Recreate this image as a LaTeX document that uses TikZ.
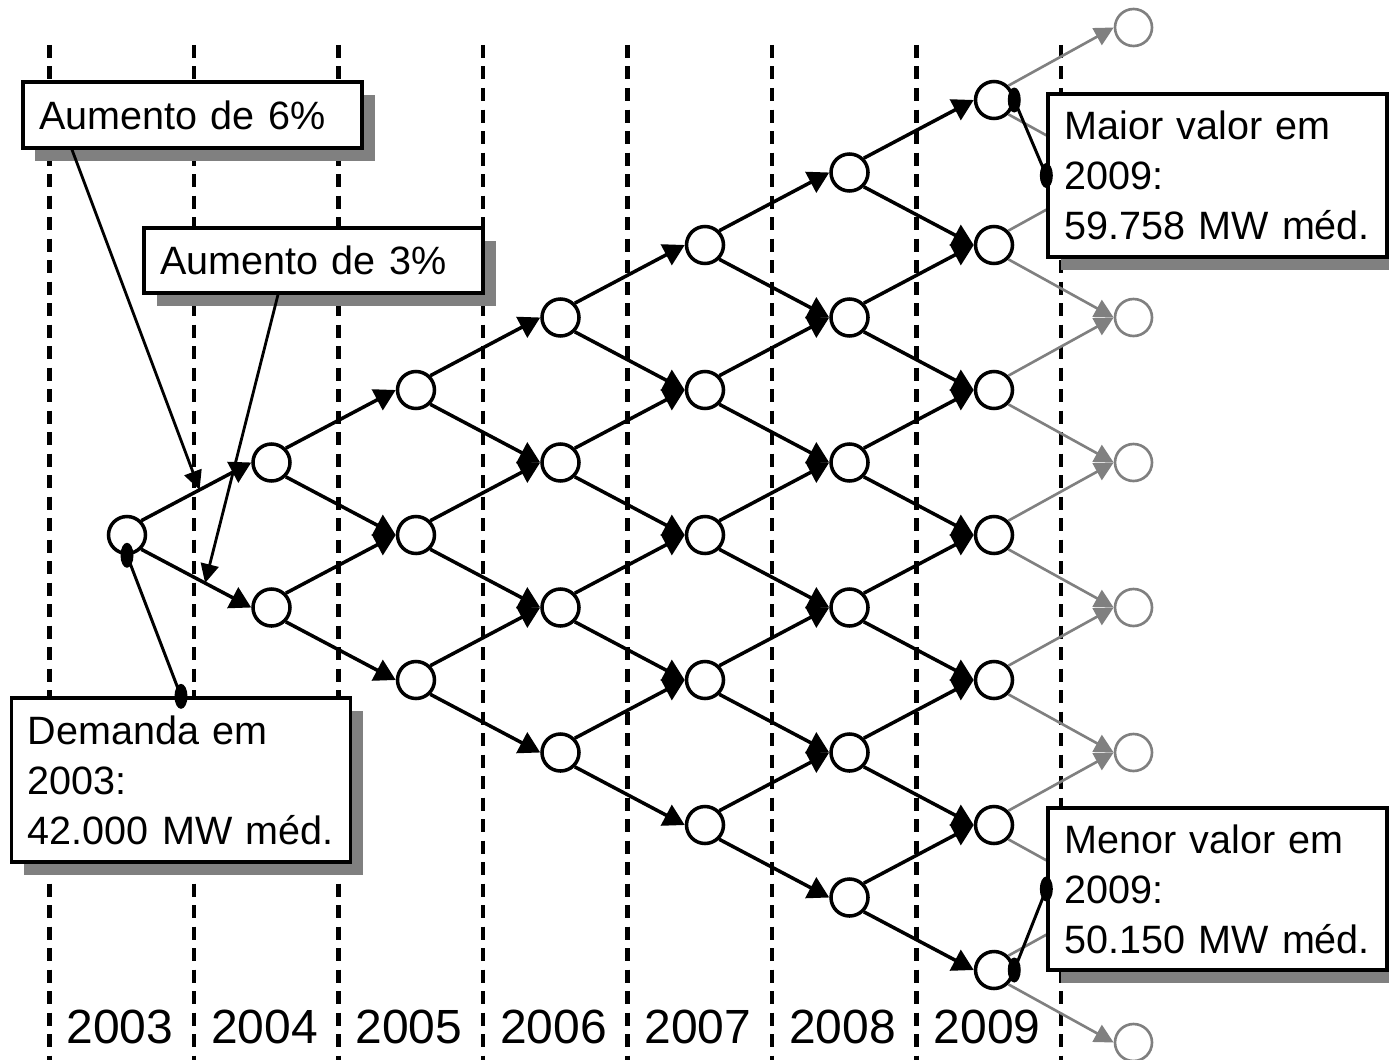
\documentclass[tikz,border=0pt]{standalone}
\usepackage{fontspec}
\setmainfont{Liberation Sans}
\definecolor{lateGray}{RGB}{128,128,128}
\definecolor{shadeGray}{RGB}{128,128,128}
\usetikzlibrary{arrows.meta,calc,shadows}

\begin{document}
\begin{tikzpicture}[
    state/.style={circle, draw, fill=white, minimum size=7.4mm, inner sep=0pt,
                  line width=2pt},
    laststate/.style={state, draw=lateGray, line width=1.5pt},
    arr/.style={-{Triangle[length=4.2mm,width=4.6mm]}, line width=2pt},
    lastarr/.style={-{Triangle[length=3.8mm,width=3.8mm]}, lateGray, line width=1.5pt},
    yearline/.style={dash pattern=on 2.6mm off 1.7mm, line width=2.4pt},
    note/.style={rectangle, draw, fill=white, line width=1.9pt,
                 inner xsep=3.3mm, inner ysep=0pt, text width=61.2mm,
                 minimum width=67.8mm, align=left,
                 font=\fontsize{22.5}{28.45}\selectfont,
                 drop shadow={shadow xshift=2.5mm, shadow yshift=-2.5mm,
                              fill=shadeGray, opacity=1}},
    callarr/.style={-{Triangle[length=3.8mm,width=3.6mm]}, line width=1.6pt},
    callout/.style={line width=1.7pt},
    pindot/.style={x radius=1.3mm, y radius=2.5mm},
    year/.style={anchor=base, font=\fontsize{27.3}{32}\selectfont}
  ]
  \useasboundingbox (-2.54,-10.48) rectangle (25.24,10.70);

  % year separators and labels
  \foreach \k in {0,...,7}
    \draw[yearline] ({2.89*\k-1.55},9.8) -- ({2.89*\k-1.55},-10.6);
  \foreach \yr [count=\k from 0] in {2003,...,2009}
    \node[year] (y\yr) at ({2.89*\k-0.14},-10.16) {\yr};

  % demand lattice, 2003 to 2009
  \foreach \i in {0,...,6}
    \foreach \j in {0,...,\i}
      \node[state] (n-\i-\j) at ({2.89*\i},{1.45*(\i-2*\j)}) {};
  \foreach \i [evaluate=\i as \inext using int(\i+1)] in {0,...,5} {
    \foreach \j [evaluate=\j as \jnext using int(\j+1)] in {0,...,\i} {
      \draw[arr] (n-\i-\j.north east) -- (n-\inext-\j.west);
      \draw[arr] (n-\i-\j.south east) -- (n-\inext-\jnext.west);
    }
  }

  % following year, in gray
  \foreach \j in {0,...,7}
    \node[laststate] (g-\j) at (20.13,{1.45*(7-2*\j)}) {};
  \foreach \j [evaluate=\j as \jnext using int(\j+1)] in {0,...,6} {
    \draw[lastarr] (n-6-\j.north east) -- (g-\j.west);
    \draw[lastarr] (n-6-\j.south east) -- (g-\jnext.west);
  }

  % notes
  \node[note, minimum height=13.2mm] (inc6) at (1.31,8.40) {Aumento de 6\%};
  \node[note, minimum height=13mm] (inc3) at (3.73,5.49) {Aumento de 3\%};
  \node[note, minimum height=32.8mm] (dem) at (1.08,-4.90)
    {Demanda em\\2003:\\42.000 MW méd.};
  \node[note, minimum height=32.6mm] (maxv) at (21.81,7.19)
    {Maior valor em\\2009:\\59.758 MW méd.};
  \node[note, minimum height=32.4mm] (minv) at (21.81,-7.08)
    {Menor valor em\\2009:\\50.150 MW méd.};

  % pointers from the notes
  \draw[callout] (n-0-0.south) -- (dem.north);
  \draw[callout] (n-6-0.east) -- (maxv.west);
  \draw[callout] (minv.west) -- (n-6-6.east);
  \fill (n-0-0.south) ellipse [pindot] (dem.north) ellipse [pindot];
  \fill (n-6-0.east) ellipse [pindot] (maxv.west) ellipse [pindot];
  \fill (minv.west) ellipse [pindot] (n-6-6.east) ellipse [pindot];

  \coordinate (up1) at ($(n-0-0.north east)!0.53!(n-1-0.west)$);
  \coordinate (dn1) at ($(n-0-0.south east)!0.58!(n-1-1.west)$);
  \draw[callarr] ([xshift=-24.1mm]inc6.south) -- (up1);
  \draw[callarr] ([xshift=-7.1mm]inc3.south) -- (dn1);
\end{tikzpicture}
\end{document}
